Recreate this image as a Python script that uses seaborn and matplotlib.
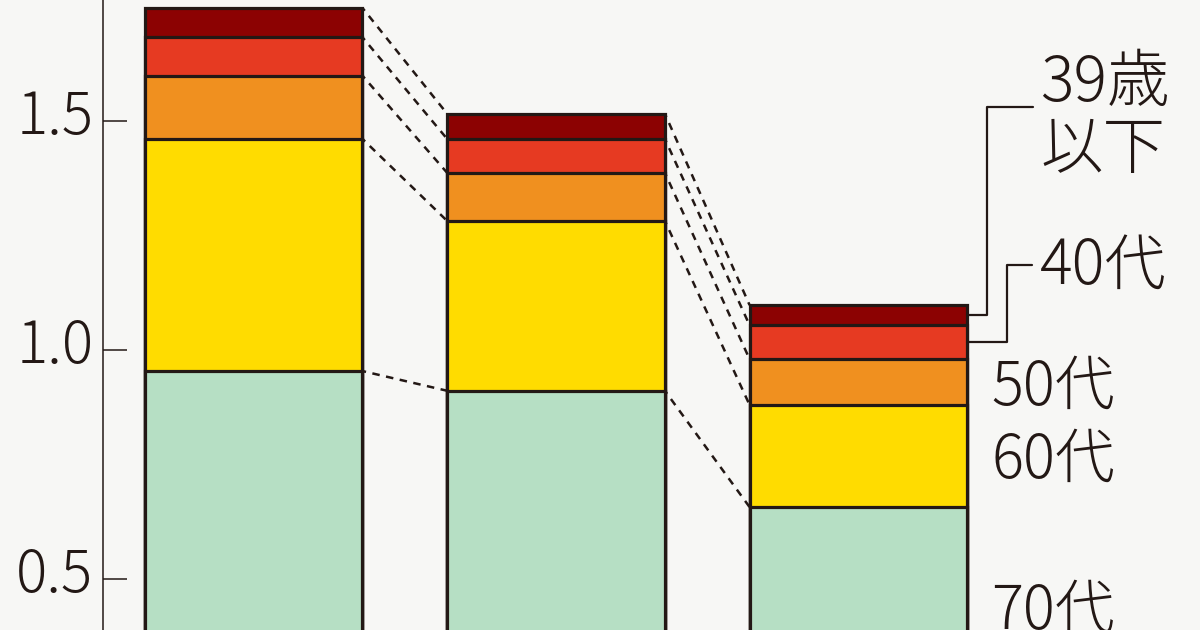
import numpy as np
import pandas as pd
import matplotlib
matplotlib.use("Agg")
import matplotlib.pyplot as plt
import matplotlib.transforms as mtransforms
import seaborn as sns

# ---- data ----
bars = ["A", "B", "C"]
age_groups = ["70代", "60代", "50代", "40代", "39歳以下"]
v70 = [0.954, 0.911, 0.657]
v60 = [0.507, 0.371, 0.223]
v50 = [0.138, 0.105, 0.100]
v40 = [0.084, 0.074, 0.074]
v39 = [0.064, 0.055, 0.044]
yticks = [0.5, 1.0, 1.5]
ytick_labels = ["0.5", "1.0", "1.5"]

colors = {
    "70代": "#b6dfc4",
    "60代": "#ffdc00",
    "50代": "#f0901f",
    "40代": "#e63a22",
    "39歳以下": "#8c0202",
}
ink = "#231815"
bg = "#f7f7f5"

sns.set_style("white")
plt.rcParams["font.family"] = ["Noto Sans CJK JP", "DejaVu Sans"]
plt.rcParams["font.weight"] = "light"

series = [v70, v60, v50, v40, v39]
cum = np.cumsum(np.array(series), axis=0)  # rows: cumulative tops per age layer

fig = plt.figure(figsize=(12, 6.3), dpi=100, facecolor=bg)
ax = fig.add_axes([103 / 1200, 0, 1 - 103 / 1200, 1])
ax.set_facecolor(bg)

w = 0.72
# draw from top layer down so lower layers overlay
for i in range(len(age_groups) - 1, -1, -1):
    df = pd.DataFrame({"bar": bars, "top": cum[i]})
    sns.barplot(data=df, x="bar", y="top", color=colors[age_groups[i]],
                saturation=1, width=w, edgecolor=ink, linewidth=2.3,
                errorbar=None, ax=ax, zorder=3)

# dashed connectors between adjacent bars at every layer boundary
for j in range(len(bars) - 1):
    for i in range(len(age_groups)):
        ax.plot([j + w / 2, j + 1 - w / 2], [cum[i][j], cum[i][j + 1]],
                ls=(1.5, (3, 2.6)), color=ink, lw=1.8, zorder=2)

# leader lines for the two thin top layers of the last bar
last = len(bars) - 1
xr = last + w / 2
y39 = (cum[3][last] + cum[4][last]) / 2
y40 = (cum[2][last] + cum[3][last]) / 2
ax.plot([xr, 2.425, 2.425, 2.577], [y39, y39, 1.5306, 1.5306], color=ink, lw=1.6,
        clip_on=False, zorder=4)
ax.plot([xr, 2.491, 2.491, 2.574], [y40, y40, 1.1856, 1.1856], color=ink, lw=1.6,
        clip_on=False, zorder=4)

fs = 44
ax.text(2.60, 1.5437, "39歳", fontsize=fs + 1, color=ink, va="baseline", ha="left")
ax.text(2.60, 1.397, "以下", fontsize=fs + 1, color=ink, va="baseline", ha="left")
ax.text(2.60, 1.1419, "40代", fontsize=fs, color=ink, va="baseline", ha="left")
ax.text(2.44, 0.8799, "50代", fontsize=fs - 1, color=ink, va="baseline", ha="left")
ax.text(2.44, 0.7205, "60代", fontsize=fs - 1, color=ink, va="baseline", ha="left")
ax.text(2.44, 0.3908, "70代", fontsize=fs - 1, color=ink, va="baseline", ha="left")

ax.set_xlim(-0.4975, 3.129)
ax.set_ylim(0.3886, 1.7642)
ax.set_yticks(yticks)
ax.set_yticklabels(ytick_labels)
ax.set_xticks([])
ax.set_xlabel("")
ax.set_ylabel("")
ax.tick_params(axis="y", left=True, direction="in", length=17, width=1.1,
               color=ink, labelsize=42, labelcolor=ink, pad=7)
offset = mtransforms.ScaledTranslation(0, 10 / 100, fig.dpi_scale_trans)
for lab in ax.get_yticklabels():
    lab.set_transform(lab.get_transform() + offset)
for s in ["top", "right", "bottom"]:
    ax.spines[s].set_visible(False)
ax.spines["left"].set_color(ink)
ax.spines["left"].set_linewidth(1.1)

fig.savefig("out.png", dpi=100, facecolor=bg)
